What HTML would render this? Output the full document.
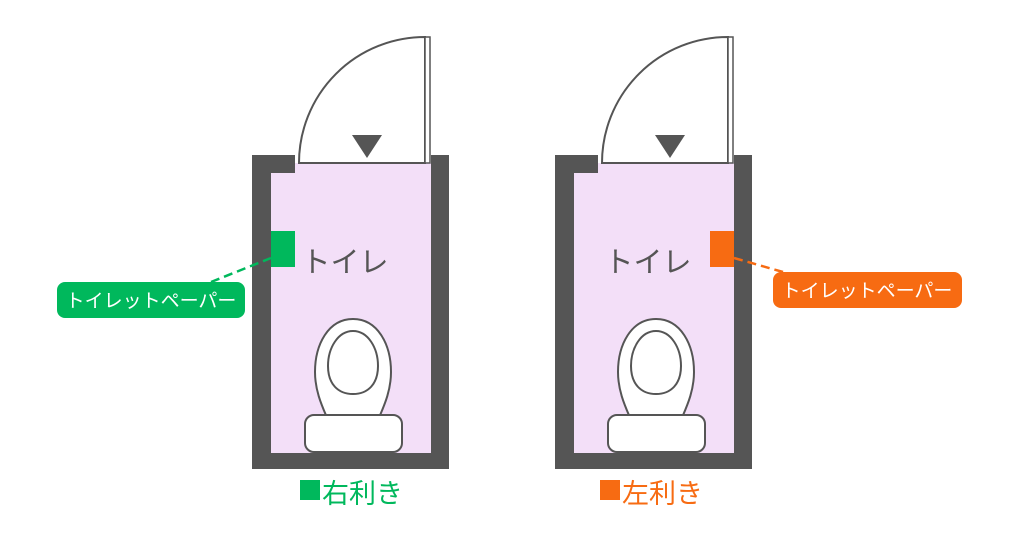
<!DOCTYPE html>
<html><head><meta charset="utf-8"><style>
body{margin:0;background:#fff}
svg text{font-family:"Liberation Sans","Noto Sans CJK JP",sans-serif}
</style></head><body>
<svg width="1024" height="555" viewBox="0 0 1024 555" xmlns="http://www.w3.org/2000/svg">
<defs>
<g id="room">
  <rect x="252" y="155" width="197" height="314" fill="#555"/>
  <rect x="271" y="173" width="160" height="280" fill="#f3dff8"/>
  <rect x="295" y="150" width="136" height="24" fill="#fff"/>
  <rect x="295" y="163" width="136" height="12" fill="#f3dff8"/>
  <path d="M299 163 A126 126 0 0 1 425 37 L425 163 Z" fill="#fff" stroke="#555" stroke-width="2"/>
  <rect x="425" y="37" width="5" height="126" fill="#fff" stroke="#555" stroke-width="1.5"/>
  <polygon points="352,135 382,135 367,158" fill="#555"/>
  <text x="345" y="272" font-size="29" fill="#555" text-anchor="middle">トイレ</text>
  <path d="M353 319 C378 319 391 345 391 372 C391 392 383 408 378 420 L328 420 C323 408 315 392 315 372 C315 345 328 319 353 319 Z" fill="#fff" stroke="#555" stroke-width="2"/>
  <path d="M353 331 C368 331 378 348 378 366 C378 384 368 394 353 394 C338 394 328 384 328 366 C328 348 338 331 353 331 Z" fill="#fff" stroke="#555" stroke-width="2"/>
  <rect x="305" y="415" width="97" height="37" rx="9" fill="#fff" stroke="#555" stroke-width="2"/>
</g>
</defs>
<use href="#room"/>
<use href="#room" transform="translate(303 0)"/>
<rect x="271" y="231" width="24" height="36" fill="#00b85c"/>
<line x1="211" y1="282" x2="271" y2="258" stroke="#00b85c" stroke-width="2.5" stroke-dasharray="9,5"/>
<rect x="57" y="282" width="188" height="36" rx="8" fill="#00b85c"/>
<text x="151" y="307" font-size="19" fill="#fff" text-anchor="middle">トイレットペーパー</text>
<rect x="300" y="480" width="20" height="20" fill="#00b85c"/>
<text x="322" y="503" font-size="27" fill="#00b85c">右利き</text>
<rect x="710" y="231" width="24" height="36" fill="#f76b12"/>
<line x1="734" y1="258" x2="790" y2="274" stroke="#f76b12" stroke-width="2.5" stroke-dasharray="9,5"/>
<rect x="773" y="272" width="189" height="36" rx="8" fill="#f76b12"/>
<text x="867" y="297" font-size="19" fill="#fff" text-anchor="middle">トイレットペーパー</text>
<rect x="600" y="480" width="20" height="20" fill="#f76b12"/>
<text x="622" y="503" font-size="27" fill="#f76b12">左利き</text>
</svg>
</body></html>
